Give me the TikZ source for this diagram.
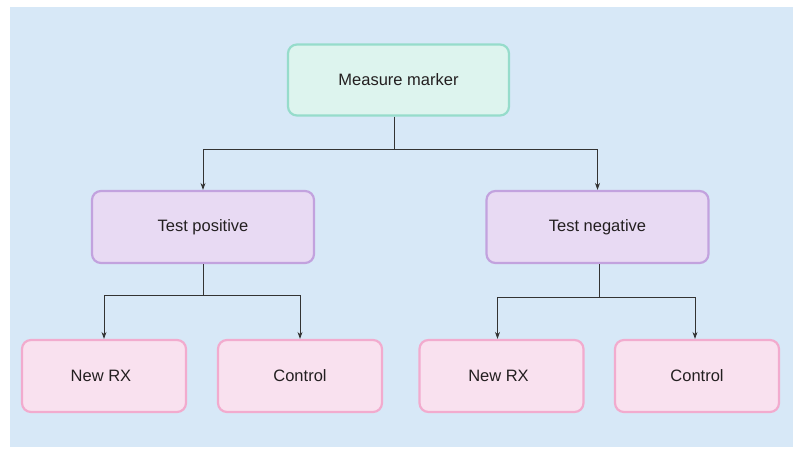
\documentclass[tikz,border=0pt]{standalone}
\usepackage{fontspec}
\setmainfont{Liberation Sans}
\usetikzlibrary{arrows.meta}
\definecolor{bgblue}{HTML}{D7E8F7}
\definecolor{tealfill}{HTML}{DDF4EE}
\definecolor{tealline}{HTML}{96DCCB}
\definecolor{purpfill}{HTML}{E8DAF3}
\definecolor{purpline}{HTML}{C2A2DE}
\definecolor{pinkfill}{HTML}{F9E1EF}
\definecolor{pinkline}{HTML}{F2ABCE}
\definecolor{txt}{HTML}{231F20}
\tikzset{
  x=1pt, y=-1pt,
  box/.style={rounded corners=9pt, line width=2.2pt, font=\fontsize{16.5}{19}\selectfont, text=txt, anchor=center},
  topbox/.style={box, fill=tealfill, draw=tealline, minimum width=221pt, minimum height=71pt},
  midbox/.style={box, fill=purpfill, draw=purpline, minimum width=222pt, minimum height=72pt},
  leafbox/.style={box, fill=pinkfill, draw=pinkline, minimum width=164pt, minimum height=72pt},
  conn/.style={draw=black!80, line width=0.9pt},
  arr/.style={conn, -{Stealth[length=7pt,width=5pt]}}
}
\begin{document}
\begin{tikzpicture}
\useasboundingbox (0,0) rectangle (800,454);
\fill[white] (0,0) rectangle (800,454);
\fill[bgblue] (10,7) rectangle (793,447);
\node[topbox] (mm) at (398.5,80) {Measure marker};
\node[midbox] (tp) at (203,227) {Test positive};
\node[midbox] (tn) at (597.5,227) {Test negative};
\node[leafbox] (n1) at (104,376) {\hspace*{-6pt}New RX};
\node[leafbox] (c1) at (300,376) {Control};
\node[leafbox] (n2) at (501.5,376) {\hspace*{-6pt}New RX};
\node[leafbox] (c2) at (697,376) {Control};
\coordinate (j0) at (394,149);
\coordinate (j1) at (203,295);
\coordinate (j2) at (599,297);
\draw[conn] (mm.south -| j0) -- (j0);
\draw[arr] (j0) -| (tp.north);
\draw[arr] (j0) -| (tn.north);
\draw[conn] (tp.south) -- (j1);
\draw[arr] (j1) -| (n1.north);
\draw[arr] (j1) -| (c1.north);
\draw[conn] (tn.south -| j2) -- (j2);
\draw[arr] (j2) -| ([xshift=-4pt]n2.north);
\draw[arr] (j2) -| ([xshift=-2pt]c2.north);
\end{tikzpicture}
\end{document}
